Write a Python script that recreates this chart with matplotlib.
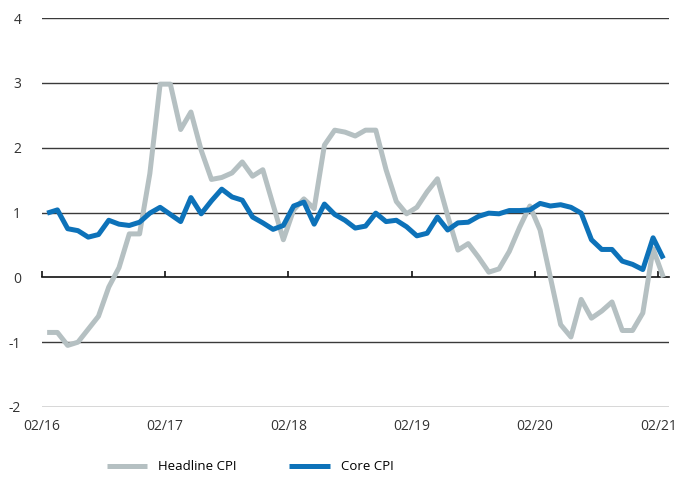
import matplotlib
matplotlib.use("Agg")
from matplotlib import pyplot as plt
import numpy as np

# monthly, 02/2016 .. 02/2021
headline = [-0.85, -0.85, -1.05, -1.0, -0.8, -0.6, -0.15, 0.15, 0.67, 0.67,
            1.6, 2.98, 2.98, 2.28, 2.55, 1.96, 1.51, 1.54, 1.61, 1.78,
            1.56, 1.66, 1.12, 0.58, 1.04, 1.21, 1.06, 2.04, 2.27, 2.24,
            2.18, 2.27, 2.27, 1.66, 1.17, 0.98, 1.08, 1.32, 1.52, 0.95,
            0.42, 0.52, 0.31, 0.08, 0.13, 0.4, 0.77, 1.1, 0.73, 0.0,
            -0.73, -0.92, -0.34, -0.63, -0.52, -0.38, -0.82, -0.82, -0.55, 0.44,
            0.0]
core = [0.99, 1.04, 0.75, 0.72, 0.62, 0.66, 0.88, 0.82, 0.8, 0.85,
        0.99, 1.08, 0.97, 0.86, 1.23, 0.98, 1.18, 1.36, 1.24, 1.19,
        0.93, 0.84, 0.74, 0.8, 1.1, 1.16, 0.82, 1.13, 0.97, 0.88,
        0.76, 0.79, 0.99, 0.86, 0.88, 0.78, 0.64, 0.68, 0.93, 0.73,
        0.84, 0.85, 0.94, 0.99, 0.98, 1.03, 1.03, 1.04, 1.14, 1.1,
        1.12, 1.08, 0.99, 0.58, 0.43, 0.43, 0.25, 0.2, 0.12, 0.61,
        0.29]
tick_labels = ['02/16', '02/17', '02/18', '02/19', '02/20', '02/21']
y_ticks = [-2, -1, 0, 1, 2, 3, 4]

plt.rcParams['font.family'] = ['Open Sans', 'DejaVu Sans']

months = np.arange(len(core)) + 0.5

fig = plt.figure(figsize=(6.97, 4.8), dpi=100)
ax = fig.add_axes([42 / 697, 73 / 480, 627 / 697, 389 / 480])

ax.plot(months, headline, color='#b5c0c2', linewidth=3.6, solid_joinstyle='round',
        solid_capstyle='butt', label='Headline CPI', zorder=3)
ax.plot(months, core, color='#0d72b9', linewidth=3.6, solid_joinstyle='round',
        solid_capstyle='butt', label='Core CPI', zorder=4)

ax.set_xlim(0, 61.05)
ax.set_ylim(-2, 4)
ax.set_yticks(y_ticks)
ax.set_yticklabels([str(v) for v in y_ticks], fontsize=10, color='#333333')
ax.tick_params(axis='y', length=0, pad=15)

for v in y_ticks:
    if v != 0:
        ax.axhline(v, color='#3a3a3a', linewidth=1.0, zorder=1)

for s in ['left', 'right', 'top']:
    ax.spines[s].set_visible(False)
ax.spines['bottom'].set_position(('data', 0))
ax.spines['bottom'].set_color('#111111')
ax.spines['bottom'].set_linewidth(1.2)
ax.spines['bottom'].set_zorder(2)

year_pos = np.arange(0, 61, 12)
ax.set_xticks(year_pos)
ax.tick_params(axis='x', direction='in', length=4, width=1.2, color='#111111',
               labelbottom=False)

sec = ax.secondary_xaxis(0.0)
sec.set_xticks(year_pos)
sec.set_xticklabels(tick_labels, fontsize=10, color='#333333')
sec.tick_params(length=0, pad=9)
sec.spines['bottom'].set_visible(False)

fig.legend(loc='center', bbox_to_anchor=(250 / 697, 1 - 467 / 480), ncol=2,
           frameon=False, fontsize=9.5, handlelength=3.1, handletextpad=0.8,
           columnspacing=4.0)

fig.savefig('out.png', dpi=100)
